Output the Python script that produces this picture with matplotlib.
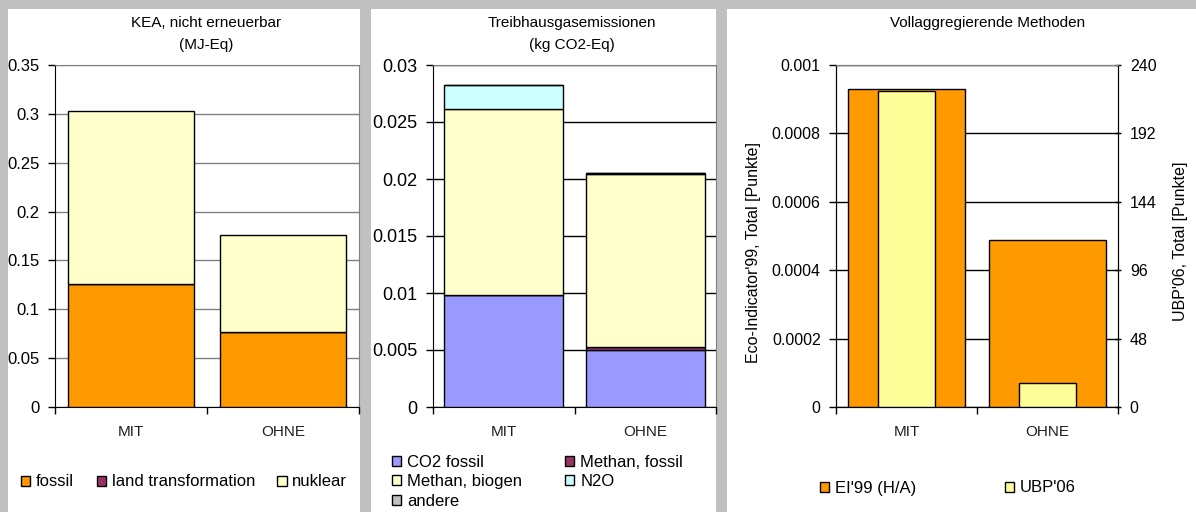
import matplotlib.pyplot as plt
from matplotlib.patches import Rectangle, Patch
import numpy as np

# data
categories = ['MIT', 'OHNE']

kea_labels = ['fossil', 'land transformation', 'nuklear']
kea_fossil = [0.126, 0.077]
kea_land = [0.0003, 0.0002]
kea_nuklear = [0.177, 0.099]
kea_ticks = [0, 0.05, 0.1, 0.15, 0.2, 0.25, 0.3, 0.35]
kea_ticklabels = ['0', '0.05', '0.1', '0.15', '0.2', '0.25', '0.3', '0.35']

ghg_labels = ['CO2 fossil', 'Methan, fossil', 'Methan, biogen', 'N2O', 'andere']
ghg_co2 = [0.0098, 0.0050]
ghg_meth_fossil = [0.00005, 0.0003]
ghg_meth_biogen = [0.0163, 0.0151]
ghg_n2o = [0.0021, 0.0001]
ghg_andere = [0.00002, 0.00005]
ghg_ticks = [0, 0.005, 0.01, 0.015, 0.02, 0.025, 0.03]
ghg_ticklabels = ['0', '0.005', '0.01', '0.015', '0.02', '0.025', '0.03']

ei99 = [0.000929, 0.000489]
ubp06 = [222, 16.6]
ei_ticks = [0, 0.0002, 0.0004, 0.0006, 0.0008, 0.001]
ei_ticklabels = ['0', '0.0002', '0.0004', '0.0006', '0.0008', '0.001']
ubp_ticks = [0, 48, 96, 144, 192, 240]

W, H = 1196, 512
BG = '#C0C0C0'
NARROW = ['Liberation Sans Narrow', 'Liberation Sans']
plt.rcParams['font.family'] = ['Liberation Sans', 'DejaVu Sans']

fig = plt.figure(figsize=(W / 100, H / 100), dpi=100, facecolor=BG)


def fx(x):
    return x / W


def fy(y):
    return 1 - y / H


def panel(x0, x1):
    fig.patches.append(Rectangle((fx(x0), 0), fx(x1 - x0), fy(9),
                                 transform=fig.transFigure, facecolor='white',
                                 edgecolor='none', zorder=-10))


def make_axes(l, r, t=65, b=407):
    return fig.add_axes([fx(l), fy(b), fx(r - l), (b - t) / H])


def style_axes(ax, grid_color, ysize, right_color='#808080'):
    ax.set_xlim(-0.5, 1.5)
    ax.set_xticks([0, 1])
    ax.set_xticklabels(categories, family=NARROW, fontsize=11, color='#202020')
    ax.tick_params(axis='x', which='major', length=0, pad=13)
    ax.set_xticks([-0.5, 0.5, 1.5], minor=True)
    ax.tick_params(axis='x', which='minor', length=5, direction='out', width=1)
    ax.tick_params(axis='y', length=5, direction='out', width=1, pad=6,
                   labelsize=ysize)
    ax.spines['top'].set_color('#808080')
    ax.spines['right'].set_color(right_color)
    ax.yaxis.grid(True, color=grid_color, linewidth=1)
    ax.set_axisbelow(True)


LEG = dict(frameon=False, fontsize=12, handlelength=0.55, handleheight=0.55,
           handletextpad=0.35, borderpad=0, borderaxespad=0)

panel(8, 360)
panel(371, 716)
panel(727, 1196)

x = np.arange(len(categories))
bw = 0.835

# Panel 1: KEA
ax1 = make_axes(55, 359)
bottom = np.zeros(2)
for vals, lab, col in zip([kea_fossil, kea_land, kea_nuklear], kea_labels,
                          ['#FF9900', '#993366', '#FFFFCC']):
    ax1.bar(x, vals, bw, bottom=bottom, color=col, edgecolor='black',
            linewidth=1, label=lab, zorder=3)
    bottom += np.array(vals)
ax1.set_ylim(0, 0.35)
ax1.set_yticks(kea_ticks)
ax1.set_yticklabels(kea_ticklabels)
style_axes(ax1, '#808080', 12)
fig.text(fx(206), fy(23), 'KEA, nicht erneuerbar', ha='center', va='center',
         family=NARROW, fontsize=11)
fig.text(fx(206), fy(45), '(MJ-Eq)', ha='center', va='center',
         family=NARROW, fontsize=11)
h1, l1 = ax1.get_legend_handles_labels()
fig.legend(h1, l1, ncol=3, loc='center left', bbox_to_anchor=(fx(21), fy(482)),
           columnspacing=1.35, **LEG)

# Panel 2: Treibhausgase
ax2 = make_axes(433, 716)
bw2 = 0.84
bottom = np.zeros(2)
ghg_colors = ['#9999FF', '#993366', '#FFFFCC', '#CCFFFF', '#C0C0C0']
ghg_series = [ghg_co2, ghg_meth_fossil, ghg_meth_biogen, ghg_n2o, ghg_andere]
for vals, lab, col in zip(ghg_series, ghg_labels, ghg_colors):
    ax2.bar(x, vals, bw2, bottom=bottom, color=col, edgecolor='black',
            linewidth=1, label=lab, zorder=3)
    bottom += np.array(vals)
ax2.set_ylim(0, 0.03)
ax2.set_yticks(ghg_ticks)
ax2.set_yticklabels(ghg_ticklabels)
style_axes(ax2, 'black', 13)
fig.text(fx(572), fy(23), 'Treibhausgasemissionen', ha='center', va='center',
         family=NARROW, fontsize=11)
fig.text(fx(572), fy(45), '(kg CO2-Eq)', ha='center', va='center',
         family=NARROW, fontsize=11)
h2, l2 = ax2.get_legend_handles_labels()
order = [0, 2, 4, 1, 3]
fig.legend([h2[i] for i in order], [l2[i] for i in order], ncol=2,
           loc='upper left', bbox_to_anchor=(fx(392), fy(455)),
           columnspacing=2.6, labelspacing=0.26, **LEG)

# Panel 3: Vollaggregierende Methoden
ax3 = make_axes(836, 1118)
ax3.bar(x, ei99, 0.83, color='#FF9900', edgecolor='black', linewidth=1,
        label="EI'99 (H/A)", zorder=3)
ax3.set_ylim(0, 0.001)
ax3.set_yticks(ei_ticks)
ax3.set_yticklabels(ei_ticklabels)
style_axes(ax3, 'black', 11.5, right_color='black')
ax3.set_ylabel("Eco-Indicator'99, Total [Punkte]", fontsize=11.5)
ax3.yaxis.set_label_coords(-0.265, 0.453)
ax3b = ax3.twinx()
ax3b.bar(x, ubp06, 0.4, color='#FFFF99', edgecolor='black', linewidth=1,
         label="UBP'06", zorder=3)
ax3b.set_ylim(0, 240)
ax3b.set_yticks(ubp_ticks)
ax3b.tick_params(axis='y', length=5, direction='inout', width=1, pad=6,
                 labelsize=11.5)
ax3b.spines['top'].set_color('#808080')
ax3b.set_ylabel("UBP'06, Total [Punkte]", fontsize=11.5, rotation=90)
ax3b.yaxis.set_label_coords(1.195, 0.485)
fig.text(fx(988), fy(23), 'Vollaggregierende Methoden', ha='center',
         va='center', family=NARROW, fontsize=11)
h3 = [Patch(facecolor='#FF9900', edgecolor='black'),
      Patch(facecolor='#FFFF99', edgecolor='black')]
fig.legend(h3, ["EI'99 (H/A)", "UBP'06"], ncol=2, loc='center left',
           bbox_to_anchor=(fx(820), fy(488)), columnspacing=5.3, **LEG)

fig.savefig('out.png', dpi=100, facecolor=BG)
